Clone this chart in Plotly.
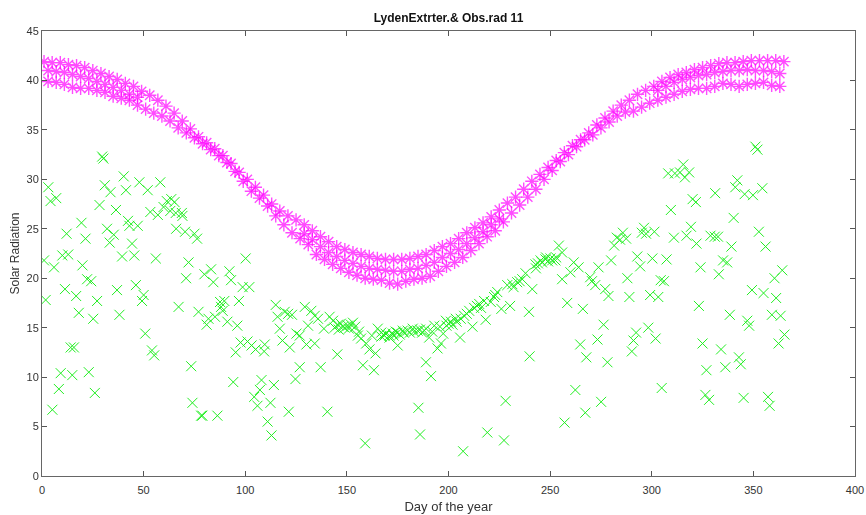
import plotly.graph_objects as go

# Extraterrestrial radiation, upper band
ext_up_day = list(range(1, 366, 4))
ext_up_rad = [41.9, 41.8, 41.8, 41.6, 41.5, 41.3, 41.0, 40.7, 40.4, 40.1, 39.7, 39.4,
              38.9, 38.5, 38.0, 37.4, 36.7, 35.9, 35.1, 34.3, 33.7, 33.1, 32.4, 31.6,
              30.7, 30.0, 29.2, 28.4, 27.5, 26.8, 26.3, 25.9, 25.4, 24.8, 24.2, 23.7,
              23.2, 22.9, 22.6, 22.4, 22.2, 22.0, 21.9, 21.9, 21.9, 22.0, 22.2, 22.4,
              22.8, 23.2, 23.5, 24.0, 24.6, 25.1, 25.6, 26.2, 26.9, 27.6, 28.2, 29.0,
              29.8, 30.5, 31.2, 31.9, 32.7, 33.4, 34.0, 34.7, 35.5, 36.2, 36.9, 37.5,
              38.0, 38.6, 39.0, 39.4, 39.9, 40.3, 40.6, 40.8, 41.1, 41.3, 41.5, 41.7,
              41.8, 41.8, 41.9, 42.0, 42.0, 42.0, 42.0, 41.9]

# Extraterrestrial radiation, lower band
ext_low_day = list(range(3, 364, 4))
ext_low_rad = [39.9, 39.8, 39.6, 39.3, 39.2, 39.2, 39.0, 38.8, 38.4, 38.2, 38.0, 37.5,
               37.1, 36.7, 36.4, 35.9, 35.2, 34.7, 34.2, 33.6, 33.0, 32.4, 31.7, 30.8,
               29.8, 28.8, 28.1, 27.3, 26.3, 25.4, 24.6, 24.0, 23.4, 22.4, 21.9, 21.4,
               21.0, 20.6, 20.3, 20.0, 19.9, 19.8, 19.5, 19.4, 19.7, 19.9, 20.0, 20.2,
               20.7, 21.2, 21.6, 22.1, 22.8, 23.5, 24.2, 24.8, 25.7, 26.6, 27.4, 28.2,
               29.0, 30.0, 30.9, 31.8, 32.5, 33.3, 34.0, 34.5, 35.2, 35.8, 36.4, 36.8,
               36.9, 37.3, 37.7, 38.0, 38.3, 38.6, 38.9, 39.1, 39.2, 39.2, 39.4, 39.7,
               39.6, 39.4, 39.6, 39.7, 39.8, 39.5, 39.4]

# Extraterrestrial radiation, middle row (visible where the curve is flat)
ext_mid_day = [3, 7, 11, 15, 19, 23, 27, 31, 35, 39, 43, 47,
               129, 133, 137, 141, 145, 149, 153, 157, 161, 165, 169, 173, 177, 181,
               185, 189, 193, 197, 201, 205, 209, 213, 217, 221, 225,
               303, 307, 311, 315, 319, 323, 327, 331, 335, 339, 343, 347, 351, 355,
               359, 363]
ext_mid_rad = [41.0, 40.9, 40.8, 40.6, 40.4, 40.2, 39.9, 39.6, 39.3, 39.0, 38.6, 38.3,
               24.5, 23.9, 23.2, 22.6, 22.2, 21.8, 21.5, 21.2, 21.0, 20.9, 20.8, 20.7,
               20.7, 20.9, 21.0, 21.3, 21.6, 22.1, 22.5, 22.9, 23.5, 24.1, 24.7, 25.4,
               26.0,
               39.0, 39.4, 39.8, 40.1, 40.3, 40.5, 40.6, 40.8, 40.9, 41.0, 41.0, 41.1,
               41.0, 41.0, 40.9, 40.7]

# Observed radiation
obs_day = [1.0, 1.8, 3.1, 4.2, 5.1, 5.9, 7.0, 8.3, 9.2, 10.0, 11.3, 12.1, 12.9, 14.1, 14.9,
           15.7, 16.8, 18.1, 19.4, 19.9, 21.4, 22.2, 23.0, 24.2, 25.2, 26.0, 27.1, 28.3,
           29.6, 30.2, 30.9, 32.0, 33.3, 33.7, 35.3, 36.4, 36.9, 38.1, 39.4, 40.2, 41.3,
           42.3, 43.0, 44.3, 45.4, 46.2, 47.1, 47.9, 49.2, 50.0, 50.8, 52.0, 53.3, 54.1,
           55.2, 56.0, 57.0, 58.2, 59.8, 61.4, 63.1, 63.6, 65.2, 65.8, 66.0, 67.2, 68.8,
           69.1, 70.4, 70.9, 72.1, 73.4, 74.0, 75.0, 76.3, 77.0, 78.3, 78.9, 79.9, 81.0,
           81.9, 83.2, 84.3, 85.1, 86.3, 87.6, 88.1, 88.9, 89.7, 91.2, 92.2, 93.0, 94.1,
           95.3, 96.1, 96.9, 97.7, 98.7, 100.2, 101.1, 102.0, 103.1, 104.4, 105.1, 106.0,
           107.2, 108.0, 109.3, 109.6, 111.0, 112.4, 112.9, 114.1, 115.0, 115.9, 117.0,
           118.3, 119.4, 121.1, 121.4, 121.9, 123.0, 124.7, 125.2,
           126.8, 126.8, 129.3, 130.1, 130.9, 132.5, 134.2, 134.2, 135.8, 137.1, 138.7,
           140.4, 141.5, 143.2, 144.0, 145.3, 145.6, 146.0, 147.0, 148.1, 149.0, 150.5,
           151.0, 152.0, 153.0, 154.1, 155.4, 156.0, 157.0, 157.9, 159.0, 159.5, 161.1,
           162.3, 163.3, 164.1, 165.2, 166.9, 167.0, 168.5, 169.0, 170.9, 171.0, 172.6,
           173.0, 174.0, 175.0, 175.0, 176.0, 177.5, 178.0, 179.9, 181.0, 182.4, 183.0,
           184.8, 185.2, 186.0, 186.0, 187.0, 188.1, 188.9, 189.0, 190.5, 191.4, 192.0,
           193.0, 194.6, 195.8, 196.3, 197.4, 198.7, 199.0, 200.0, 201.2, 202.0, 203.6,
           204.0, 205.7, 206.0, 207.2, 207.7, 209.0, 210.2, 211.8, 212.6, 214.0, 215.1,
           216.0, 217.5, 218.3, 219.1, 220.8, 222.4, 223.0, 224.0, 226.0, 227.3, 228.1,
           228.9, 230.3, 231.4, 232.0, 233.8, 235.0, 236.3, 237.9, 239.6, 239.9, 241.2,
           242.8, 243.0, 244.0, 245.3, 246.0, 247.7, 248.0, 249.0, 250.2, 251.0, 252.6,
           253.0, 254.3, 255.9, 255.9, 257.1, 258.4, 260.0, 261.6, 262.4,
           264.0, 264.8, 266.1, 267.3, 267.8, 269.7, 270.6, 272.2, 273.3, 273.8, 275.1,
           276.3, 277.1, 278.2, 278.7, 280.0, 281.5, 282.8, 284.4, 285.8, 287.4, 288.0,
           289.0, 290.2, 291.0, 292.3, 292.9, 294.3, 295.1, 296.2, 297.2, 298.3, 299.2,
           300.3, 301.3, 301.9, 303.2, 304.4, 304.9, 306.0, 307.3, 308.1, 309.4, 310.9,
           311.4, 313.9, 315.5, 316.3, 317.1, 318.4, 319.3, 320.1, 321.7, 322.0, 323.2,
           324.0, 325.0, 326.4, 326.9, 328.2, 328.9, 331.0, 331.2, 332.6, 333.0, 334.1,
           335.1, 336.2, 337.1, 338.4, 339.2, 340.3, 341.1, 342.1, 342.9, 343.8, 345.2,
           345.7, 347.0, 347.9, 349.3, 349.8, 351.0, 352.0, 352.7, 354.4, 355.0, 356.0,
           357.2, 358.0, 359.1, 360.4, 361.2, 362.4, 363.4, 364.2, 365.3]
obs_rad = [21.8, 17.8, 29.2, 27.8, 6.7, 21.1, 28.1, 8.8, 10.4, 22.3, 18.9, 24.5, 22.4, 13.0, 10.2,
           13.0, 18.2, 16.5, 25.6, 21.3, 24.0, 19.9, 10.5, 19.7, 15.9, 8.4, 17.7, 27.4,
           32.3, 32.1, 29.4, 25.0, 23.6, 28.7, 24.4, 26.9, 18.8, 16.3, 22.2, 30.3, 28.9,
           25.8, 25.3, 23.5, 22.3, 19.3, 25.3, 29.7, 17.7, 18.3, 14.4, 28.9, 26.7, 12.7,
           12.2, 22.0, 26.4, 29.7, 27.2, 27.8, 26.8, 28.0, 27.7, 26.6, 25.0, 17.1, 26.6,
           26.3, 24.7, 20.0, 21.6, 11.1, 7.4, 24.5, 24.0, 16.6, 6.1, 6.1, 20.4, 15.3,
           15.9, 20.9, 19.6, 16.1, 6.1, 17.6, 17.1, 16.7, 17.7, 15.6, 20.7, 19.8, 9.5,
           12.5, 15.2, 17.7, 13.5, 19.1, 22.0, 13.6, 19.1, 13.2, 8.0, 12.8, 7.1,
           8.7, 9.7, 12.6, 13.3, 5.5, 7.4, 4.1, 9.2, 17.3, 16.1, 14.9,
           13.7, 16.6, 16.4, 6.5, 13.0, 16.3, 9.8, 14.4,
           14.2, 11.0, 17.1, 13.3, 15.2, 16.7, 16.2, 13.4, 15.9, 11.0, 14.9,
           6.5, 16.1, 15.7, 15.0, 12.3, 15.3, 14.8, 15.4, 15.1, 15.0, 15.2,
           14.9, 15.3, 15.5, 15.1, 14.2, 14.6, 13.9, 11.2, 3.3, 13.4, 12.8,
           14.2, 10.7, 12.4, 14.9, 14.5, 14.1, 14.2, 14.4, 14.2, 14.0, 14.4,
           14.2, 14.6, 14.5, 13.2, 14.3, 14.7, 14.5, 14.7, 14.5, 14.9, 14.6,
           14.7, 6.9, 4.2, 14.8, 14.5, 14.7, 11.5, 14.9, 14.0, 10.1, 14.6,
           15.2, 12.9, 15.1, 13.4, 14.4, 15.7, 15.2, 15.4, 15.6, 15.3, 15.9,
           15.6, 14.0, 15.9, 2.5, 16.2, 16.4, 16.7, 15.1, 17.0, 17.2, 17.4,
           17.0, 17.7, 15.8, 4.4, 17.6, 18.1, 18.3, 18.6, 16.9, 3.6, 7.6,
           19.3, 17.2, 19.4, 19.1, 19.6, 19.7, 19.9, 20.5, 16.6, 12.1, 18.9,
           21.4, 21.0, 21.5, 21.8, 21.6, 21.9, 22.1, 21.7, 22.0, 21.8, 21.8,
           22.1, 23.3, 22.6, 19.9, 5.4, 17.5, 20.6, 21.6, 8.7,
           21.1, 13.3, 16.9, 6.4, 12.0, 20.1, 19.7, 19.3, 13.8, 21.1, 7.5,
           15.3, 18.9, 11.5, 18.2, 21.8, 23.3, 24.1, 23.9, 24.6, 24.0, 20.0,
           18.1, 12.6, 13.7, 14.5, 22.2, 21.2, 24.6, 25.1, 24.5, 15.0, 18.3,
           22.0, 24.7, 13.9, 18.1, 19.8, 8.9, 19.7, 21.9, 30.6, 26.9, 24.1,
           30.6, 30.7, 31.5, 30.2, 24.3, 30.7, 25.2, 28.0, 27.7, 23.5, 17.2,
           21.1, 13.4, 8.2, 10.7, 7.7, 24.3, 24.2, 28.6, 24.2, 20.4, 12.8,
           21.8, 11.0, 21.6, 16.3, 23.2, 26.1, 29.2, 29.9, 12.0, 11.3, 7.9,
           28.5, 15.7, 15.2, 18.8, 28.4, 33.3, 33.0, 24.7, 29.1, 18.5, 23.2,
           8.0, 7.1, 16.3, 20.0, 18.0, 13.4, 16.2, 20.8, 14.3]

title_text = "LydenExtrter.& Obs.rad 11"
x_label = "Day of the year"
y_label = "Solar Radiation"
x_ticks = [0, 50, 100, 150, 200, 250, 300, 350, 400]
y_ticks = [0, 5, 10, 15, 20, 25, 30, 35, 40, 45]

magenta = "#ff00ff"
green = "#22ee22"

fig = go.Figure()
for dx, dy in [(ext_up_day, ext_up_rad), (ext_low_day, ext_low_rad), (ext_mid_day, ext_mid_rad)]:
    fig.add_trace(go.Scatter(
        x=dx, y=dy, mode="markers", showlegend=False,
        marker=dict(symbol="asterisk-open", size=11, color=magenta,
                    line=dict(color=magenta, width=1.4)),
        opacity=0.7,
    ))
fig.add_trace(go.Scatter(
    x=obs_day, y=obs_rad, mode="markers", showlegend=False,
    marker=dict(symbol="x-thin-open", size=10, color=green,
                line=dict(color=green, width=1)),
))

axis_common = dict(
    showline=True, linecolor="#666666", linewidth=1, mirror="ticks",
    ticks="inside", ticklen=5, tickcolor="#555555", showgrid=False, zeroline=False,
    automargin=False,
    tickfont=dict(family="Liberation Sans Narrow, Arial Narrow, Liberation Sans, Arial", size=11, color="#333333"),
)
fig.update_xaxes(range=[0, 400], tickvals=x_ticks, ticklabelstandoff=4,
                 title=dict(text=x_label, standoff=6,
                            font=dict(family="Liberation Sans Narrow, Liberation Sans, Arial", size=13, color="#333333")),
                 **axis_common)
fig.update_yaxes(range=[0, 45], tickvals=y_ticks,
                 title=dict(text=y_label, standoff=4,
                            font=dict(family="Liberation Sans, Arial", size=12, color="#333333")),
                 **axis_common)

fig.update_layout(
    width=866, height=515,
    margin=dict(l=42, r=11, t=31, b=39, autoexpand=False),
    paper_bgcolor="white", plot_bgcolor="white",
    title=dict(text="<b>" + title_text + "</b>", x=0.5, xref="paper", xanchor="center",
               y=1 - 18 / 515, yref="container", yanchor="middle", automargin=False,
               font=dict(family="Liberation Sans Narrow, Liberation Sans, Arial", size=12, color="#111111")),
)

fig.write_html("out.html", config={"displayModeBar": False},
               post_script="document.body.style.margin='0';document.body.style.padding='0';")
